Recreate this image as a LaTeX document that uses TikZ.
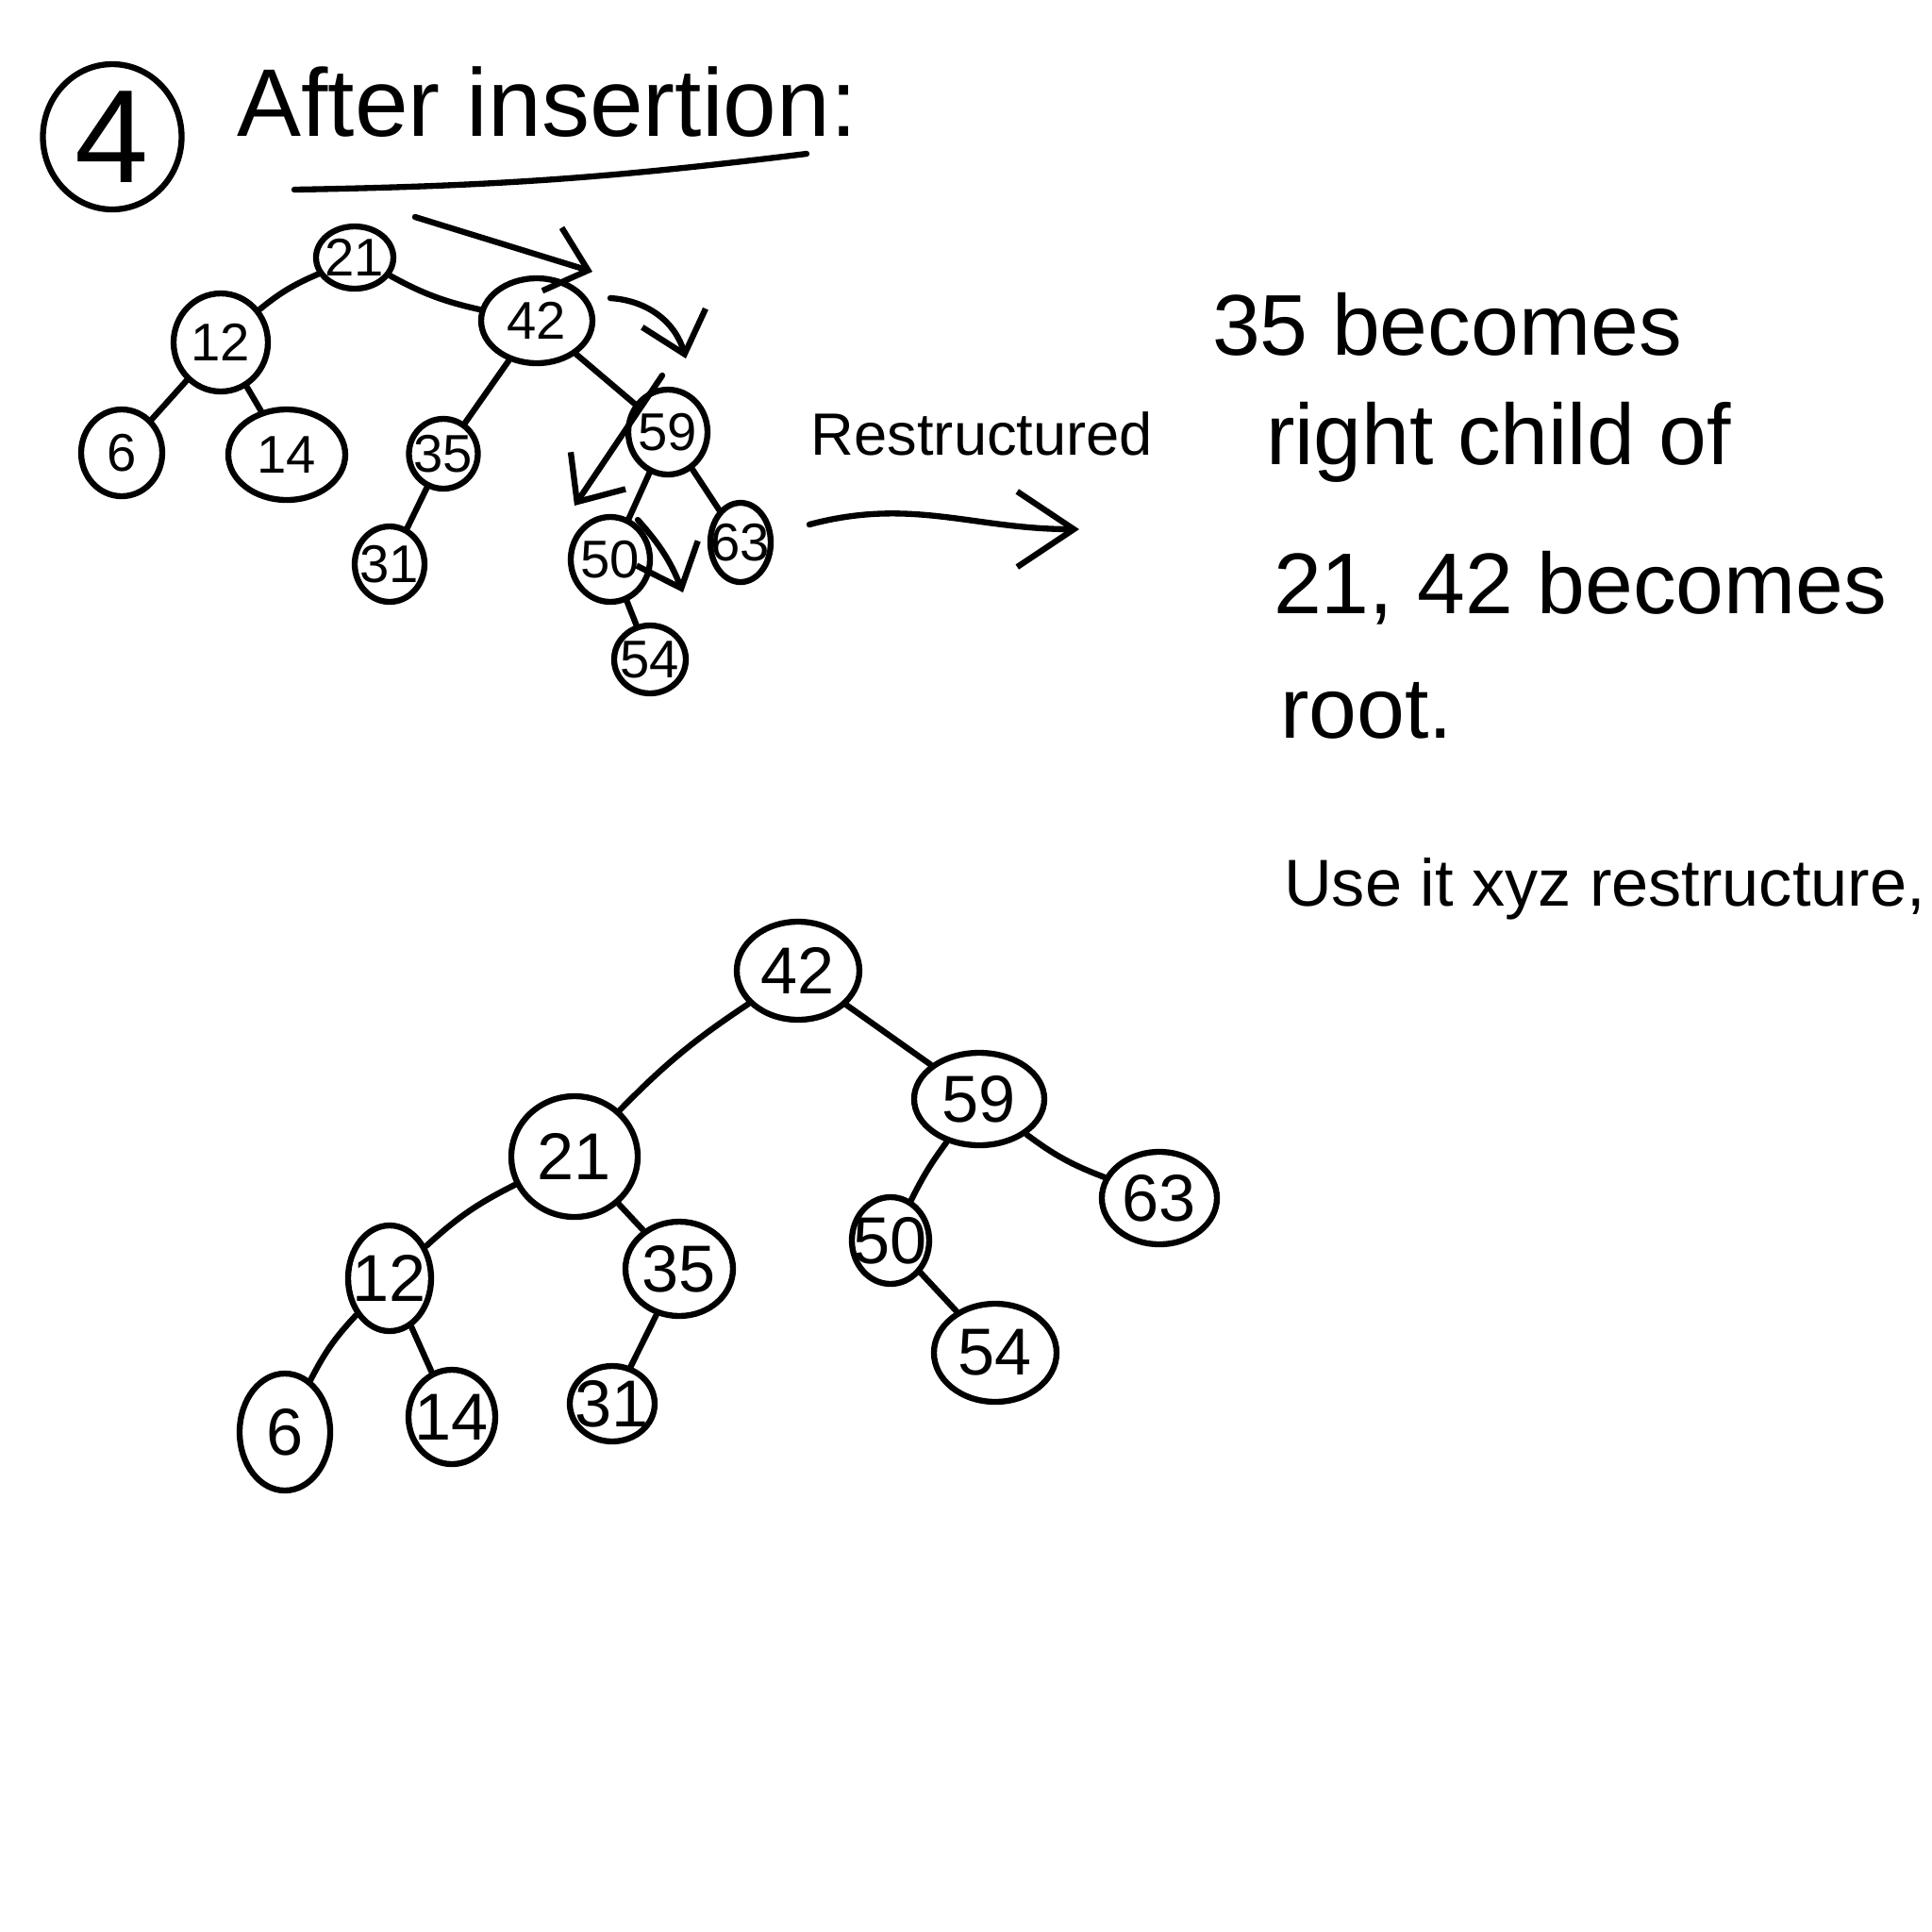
\documentclass[tikz,border=0pt]{standalone}
\usepackage{fontspec}
\setmainfont{Liberation Sans}
\usetikzlibrary{positioning,shapes.geometric,arrows.meta}
\tikzset{
	key/.style={draw, ellipse, inner sep=0pt},
	note/.style={inner sep=0pt, anchor=base west, font=\fontsize{26}{26}\selectfont},
	hint/.style={-{Straight Barb[length=4mm, width=7mm]}}
}

\begin{document}
\begin{tikzpicture}[x=1cm, y=-1cm, line width=1.8pt, line cap=round, line join=round]
	\path[use as bounding box, fill=white] (0,0) rectangle (20.48,20.48);

	\node[key, minimum width=1.47cm, minimum height=1.54cm, label={[font=\fontsize{40}{40}\selectfont]center:4}] (num) at (1.19,1.45) {};
	\node[anchor=base, inner sep=0pt, font=\fontsize{29}{29}\selectfont] (head) at (5.80,1.44) {After insertion:};
	\coordinate (ul1) at (3.12,2.01);
	\coordinate (ul2) at (8.55,1.63);
	\draw (ul1) to[bend right=3] (ul2);

	\begin{scope}
		\tikzstyle{every label}=[font=\fontsize{16}{16}\selectfont]
		\node[key, minimum width=0.82cm, minimum height=0.66cm, label=center:21] (t21) at (3.76,2.73) {};
		\node[key, minimum width=1.00cm, minimum height=1.04cm, label=center:12] (t12) at (2.34,3.63) {};
		\node[key, minimum width=1.18cm, minimum height=0.90cm, label=center:42] (t42) at (5.69,3.40) {};
		\node[key, minimum width=0.86cm, minimum height=0.92cm, label=center:6] (t6) at (1.29,4.80) {};
		\node[key, minimum width=1.24cm, minimum height=0.96cm, label=center:14] (t14) at (3.04,4.82) {};
		\node[key, minimum width=0.73cm, minimum height=0.74cm, label=center:35] (t35) at (4.70,4.81) {};
		\node[key, minimum width=0.74cm, minimum height=0.80cm, label=center:31] (t31) at (4.13,5.98) {};
		\node[key, minimum width=0.84cm, minimum height=0.90cm, label=center:59] (t59) at (7.08,4.58) {};
		\node[key, minimum width=0.84cm, minimum height=0.90cm, label=center:50] (t50) at (6.47,5.93) {};
		\node[key, minimum width=0.64cm, minimum height=0.84cm, label=center:63] (t63) at (7.85,5.75) {};
		\node[key, minimum width=0.76cm, minimum height=0.72cm, label=center:54] (t54) at (6.89,6.99) {};

		\draw (t21) to[bend right=8] (t12);
		\draw (t21) to[bend right=8] (t42);
		\draw (t12) -- (t6);
		\draw (t12) -- (t14);
		\draw (t42) -- (t35);
		\draw (t42) -- (t59);
		\draw (t35) -- (t31);
		\draw (t59) -- (t50);
		\draw (t59) -- (t63);
		\draw (t50) -- (t54);

		\coordinate (r1a) at (4.40,2.30);
		\coordinate (r1b) at (6.28,2.88);
		\coordinate (r2a) at (6.47,3.16);
		\coordinate (r2b) at (7.27,3.80);
		\coordinate (r3a) at (7.02,3.98);
		\coordinate (r3b) at (6.09,5.36);
		\coordinate (r4a) at (6.76,5.51);
		\coordinate (r4b) at (7.24,6.28);
		\draw[hint] (r1a) -- (r1b);
		\draw[hint] (r2a) to[bend left=35] (r2b);
		\draw[hint] (r3a) -- (r3b);
		\draw[hint] (r4a) to[bend left=10] (r4b);
	\end{scope}

	\node[inner sep=0pt, font=\fontsize{18}{18}\selectfont] (restr) at (10.41,4.60) {Restructured};
	\coordinate (go1) at (8.58,5.56);
	\coordinate (go2) at (11.44,5.61);
	\draw[-{Straight Barb[length=6mm, width=8mm]}] (go1) to[out=15, in=180] (go2);

	\node[note] (l1) at (12.82,3.76) {35 becomes};
	\node[note] (l2) at (13.39,4.92) {right child of};
	\node[note] (l3) at (13.47,6.50) {21, 42 becomes};
	\node[note] (l4) at (13.54,7.82) {root.};
	\node[note, font=\fontsize{20}{20}\selectfont] (l5) at (13.58,9.60) {Use it xyz restructure,};

	\begin{scope}
		\tikzstyle{every label}=[font=\fontsize{20}{20}\selectfont]
		\node[key, minimum width=1.30cm, minimum height=1.04cm, label=center:42] (b42) at (8.46,10.29) {};
		\node[key, minimum width=1.34cm, minimum height=1.28cm, label=center:21] (b21) at (6.09,12.26) {};
		\node[key, minimum width=1.38cm, minimum height=0.98cm, label=center:59] (b59) at (10.38,11.65) {};
		\node[key, minimum width=0.88cm, minimum height=1.12cm, label=center:12] (b12) at (4.13,13.55) {};
		\node[key, minimum width=1.14cm, minimum height=1.00cm, label=center:35] (b35) at (7.20,13.45) {};
		\node[key, minimum width=0.82cm, minimum height=0.92cm, label=center:50] (b50) at (9.44,13.15) {};
		\node[key, minimum width=1.22cm, minimum height=0.98cm, label=center:63] (b63) at (12.29,12.70) {};
		\node[key, minimum width=1.30cm, minimum height=1.04cm, label=center:54] (b54) at (10.55,14.34) {};
		\node[key, minimum width=0.96cm, minimum height=1.24cm, label=center:6] (b6) at (3.02,15.18) {};
		\node[key, minimum width=0.92cm, minimum height=1.00cm, label=center:14] (b14) at (4.79,15.02) {};
		\node[key, minimum width=0.90cm, minimum height=0.80cm, label=center:31] (b31) at (6.49,14.88) {};

		\draw (b42) to[bend right=6] (b21);
		\draw (b42) -- (b59);
		\draw (b21) to[bend right=8] (b12);
		\draw (b21) -- (b35);
		\draw (b12) to[bend right=8] (b6);
		\draw (b12) -- (b14);
		\draw (b35) -- (b31);
		\draw (b59) to[bend right=5] (b50);
		\draw (b59) to[bend right=8] (b63);
		\draw (b50) -- (b54);
	\end{scope}
\end{tikzpicture}
\end{document}
